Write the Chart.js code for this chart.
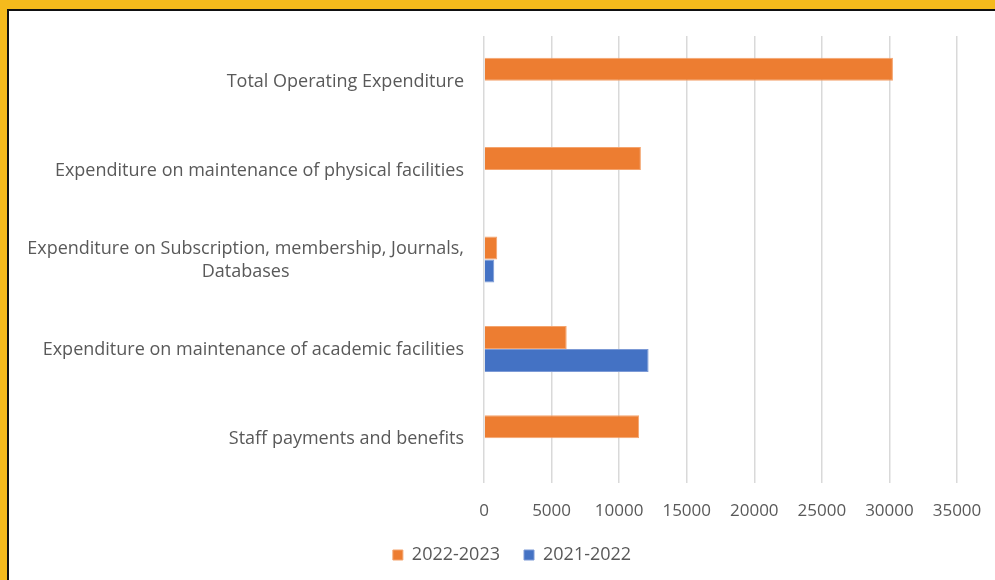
<!DOCTYPE html>
<html>
<head>
<meta charset="utf-8">
<script src="https://cdn.jsdelivr.net/npm/chart.js@4.4.1/dist/chart.umd.min.js"></script>
<style>
  html, body { margin: 0; padding: 0; }
  body { background: #F5BA1C; width: 995px; height: 580px; overflow: hidden; position: relative; }
  #frame {
    position: absolute; left: 7px; top: 9px; width: 986px; height: 569px;
    border-left: 2px solid #111; border-top: 2px solid #111; background: #fff;
  }
  #wrap { position: absolute; left: 0; top: 0; width: 986px; height: 569px; }
</style>
</head>
<body>
<div id="frame"><div id="wrap"><canvas id="chart"></canvas></div></div>
<script>
var categories = [
  'Total Operating Expenditure',
  'Expenditure on maintenance of physical facilities',
  ['Expenditure on Subscription, membership, Journals,', 'Databases'],
  'Expenditure on maintenance of academic facilities',
  'Staff payments and benefits'
];
var seriesNames = ['2022-2023', '2021-2022'];
var values2223 = [30260, 11610, 980, 6120, 11480];
var values2122 = [0, 0, 760, 12180, 0];
var xTicks = [0, 5000, 10000, 15000, 20000, 25000, 30000, 35000];

var FONT = '"Open Sans", sans-serif';
var GREY = '#595959';
var PAD_LEFT = 58;

// y labels drawn by hand: first line right-aligned, later lines centred under it
var yLabelPlugin = {
  id: 'yLabels',
  afterDraw: function(chart) {
    var scale = chart.scales.y;
    var ctx = chart.ctx;
    var right = chart.chartArea.left - 20;
    ctx.save();
    ctx.font = '18px ' + FONT;
    ctx.fillStyle = GREY;
    ctx.textBaseline = 'middle';
    categories.forEach(function(label, i) {
      var lines = Array.isArray(label) ? label : [label];
      var yc = scale.getPixelForTick(i) + 1;
      var lh = 23;
      var y0 = yc - (lines.length - 1) * lh / 2;
      var w0 = ctx.measureText(lines[0]).width;
      var mid = right - w0 / 2;
      lines.forEach(function(line, j) {
        if (j === 0) { ctx.textAlign = 'right'; ctx.fillText(line, right, y0); }
        else { ctx.textAlign = 'center'; ctx.fillText(line, mid, y0 + j * lh); }
      });
    });
    ctx.restore();
  }
};

new Chart(document.getElementById('chart'), {
  type: 'bar',
  data: {
    labels: categories,
    datasets: [
      { label: seriesNames[0], data: values2223, backgroundColor: '#ED7D31', borderColor: '#F4A46E', borderWidth: 1,
        categoryPercentage: 0.515, barPercentage: 1.0 },
      { label: seriesNames[1], data: values2122, backgroundColor: '#4472C4', borderColor: '#7C9AD6', borderWidth: 1,
        categoryPercentage: 0.515, barPercentage: 1.0 }
    ]
  },
  options: {
    indexAxis: 'y',
    responsive: true, maintainAspectRatio: false, animation: false,
    layout: { padding: { top: 25, right: 38, left: PAD_LEFT, bottom: 6 } },
    plugins: {
      tooltip: { enabled: false },
      legend: {
        position: 'bottom',
        labels: { boxWidth: 10, boxHeight: 10, padding: 24, color: GREY, font: { family: FONT, size: 18 } }
      }
    },
    scales: {
      x: {
        min: 0, max: 35000,
        afterBuildTicks: function(s) { s.ticks = xTicks.map(function(v) { return { value: v }; }); },
        afterFit: function(s) { s.height = 39; s.paddingLeft = 0; s.paddingRight = 0; },
        grid: { color: '#d9d9d9', lineWidth: 1.5, drawTicks: false },
        border: { display: false },
        ticks: { padding: 18, color: GREY, font: { family: FONT, size: 17 },
          callback: function(v) { return String(v); } }
      },
      y: {
        afterFit: function(s) { s.width = 475 - PAD_LEFT; },
        grid: { display: false },
        border: { display: false },
        ticks: { color: 'rgba(0,0,0,0)', font: { family: FONT, size: 17 } }
      }
    }
  },
  plugins: [yLabelPlugin]
});
</script>
</body>
</html>
